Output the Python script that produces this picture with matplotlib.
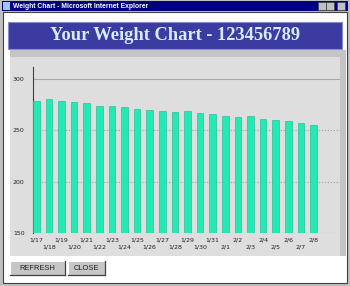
import matplotlib
matplotlib.use("Agg")
import matplotlib.pyplot as plt
from matplotlib.patches import Rectangle
from matplotlib.lines import Line2D

# data
dates = ["1/17", "1/18", "1/19", "1/20", "1/21", "1/22", "1/23", "1/24", "1/25",
         "1/26", "1/27", "1/28", "1/29", "1/30", "1/31", "2/1", "2/2", "2/3",
         "2/4", "2/5", "2/6", "2/7", "2/8"]
weights = [278.5, 280, 278.5, 277, 276.5, 274, 274, 272.5, 271, 270, 268.5,
           267.5, 268.5, 266.5, 265.5, 264, 262.5, 263.5, 261, 259.5, 258.5,
           257.5, 255.5]
ytick_vals = [150, 200, 250, 300]

W, H = 350, 286
fig = plt.figure(figsize=(W / 100, H / 100), dpi=100)
fig.patch.set_facecolor("#c0c0c0")


def rect(x0, y0, x1, y1, **kw):
    fig.add_artist(Rectangle((x0 / W, 1 - y1 / H), (x1 - x0) / W, (y1 - y0) / H,
                             transform=fig.transFigure, **kw))


def line(x0, y0, x1, y1, **kw):
    fig.add_artist(Line2D([x0 / W, x1 / W], [1 - y0 / H, 1 - y1 / H],
                          transform=fig.transFigure, **kw))


def button(x0, y0, x1, y1, label):
    rect(x0, y0, x1, y1, facecolor="#c6c6c6", edgecolor="none")
    line(x0, y0, x1, y0, color="white", lw=0.8)
    line(x0, y0, x0, y1, color="white", lw=0.8)
    line(x1, y0, x1, y1, color="#404040", lw=0.9)
    line(x0, y1, x1, y1, color="#404040", lw=0.9)
    fig.text((x0 + x1) / 2 / W, 1 - (y0 + y1) / 2 / H, label, ha="center",
             va="center", fontsize=5.4, family="Liberation Sans", color="#202020")


# window frame + title bar
rect(3, 12, 347, 283, facecolor="white", edgecolor="#404040", lw=0.8)
rect(2, 1, 348, 11, facecolor="#000080", edgecolor="none")
rect(3, 2, 10, 9.5, facecolor="#9ec8f0", edgecolor="none")
fig.text(13 / W, 1 - 6 / H, "Weight Chart - Microsoft Internet Explorer",
         fontsize=4.9, weight="bold", color="white", va="center",
         family="Liberation Sans")
for bx in (318, 326, 337):
    rect(bx, 2.5, bx + 7.5, 9.5, facecolor="#c0c0c0", edgecolor="#404040", lw=0.5)

# banner
rect(8, 22, 342, 49, facecolor="#3b3ba2", edgecolor="#8a8ad0", lw=0.8)
fig.text(175 / W, 1 - 35.5 / H, "Your Weight Chart - 123456789", ha="center",
         va="center", fontsize=13.3, weight="bold", color="#d8ecff",
         family="Liberation Serif")

# chart panel
rect(10, 50, 346, 256, facecolor="#c4c4c4", edgecolor="none")
rect(10, 57, 340, 256, facecolor="#dedede", edgecolor="none")

# chart
ax = fig.add_axes([33 / W, (H - 233) / H, 307 / W, 166 / H])
ax.set_zorder(5)
ax.set_facecolor("none")
x = list(range(len(dates)))
for v, st, c in ((300, "-", "#a8a8a8"), (250, ":", "#a0a0a0"),
                 (200, ":", "#a0a0a0"), (150, "-", "#b8b8b8")):
    ax.axhline(v, ls=st, color=c, lw=0.8, zorder=0)
ax.bar(x, weights, width=0.52, color="#22eab2", edgecolor="#12b892",
       linewidth=0.4, zorder=3)
ax.set_xlim(-0.26, 24.1)
ax.set_ylim(150, 311.5)
ax.set_yticks(ytick_vals)
ax.set_yticklabels([str(v) for v in ytick_vals], fontsize=4.5, color="#202020")
ax.set_xticks(x)
ax.set_xticklabels([d if i % 2 == 0 else "\n" + d for i, d in enumerate(dates)],
                   fontsize=4.5, color="#202020", linespacing=1.5)
ax.tick_params(axis="y", length=0, pad=6)
ax.tick_params(axis="x", length=0, pad=3)
for s in ("top", "right", "bottom"):
    ax.spines[s].set_visible(False)
ax.spines["left"].set_color("#404040")
ax.spines["left"].set_linewidth(0.8)
ax.spines["left"].set_zorder(1)

# buttons
button(10, 261, 65, 275, "REFRESH")
button(68, 261, 105, 275, "CLOSE")

fig.savefig("out.png", dpi=100)
